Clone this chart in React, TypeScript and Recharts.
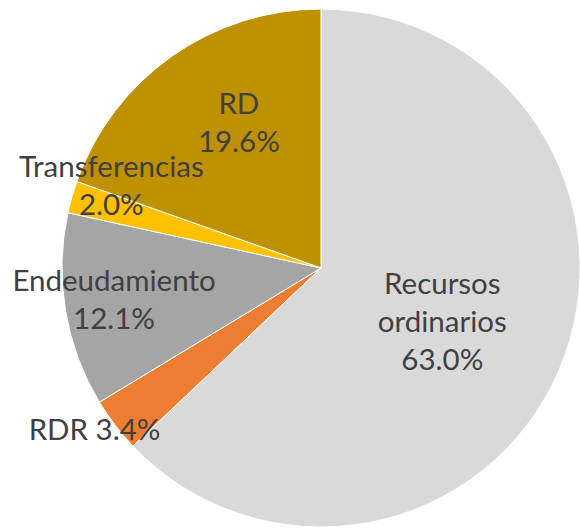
import { Cell, Pie, PieChart } from "recharts";

const categories = ["Recursos ordinarios", "RDR", "Endeudamiento", "Transferencias", "RD"];
const shares = [63.0, 3.4, 12.1, 2.0, 19.6];
const labelLines = [
  ["Recursos", "ordinarios", "63.0%"],
  ["RDR 3.4%"],
  ["Endeudamiento", "12.1%"],
  ["Transferencias", "2.0%"],
  ["RD", "19.6%"],
];

const COLORS = ["#D9D9D9", "#ED7D31", "#A5A5A5", "#FFC000", "#BF9000"];
// how far out each label sits, as a share of the radius, plus a small nudge
const LABEL_RADIUS = [0.51, 1.08, 0.81, 0.87, 0.65];
const LABEL_NUDGE = [
  [0, 0],
  [-4, -10],
  [0, -4],
  [7, -22],
  [15, -10],
];
const LINE_HEIGHT = 38;

const data = categories.map((name, i) => ({ name, value: shares[i] }));

const RAD = Math.PI / 180;

const renderLabel = (props: any) => {
  const { cx, cy, midAngle, outerRadius, index } = props;
  const r = outerRadius * LABEL_RADIUS[index];
  const x = cx + r * Math.cos(-midAngle * RAD) + LABEL_NUDGE[index][0];
  const y = cy + r * Math.sin(-midAngle * RAD) + LABEL_NUDGE[index][1];
  const lines = labelLines[index];
  const top = y - ((lines.length - 1) * LINE_HEIGHT) / 2;
  return (
    <text
      key={`label-${index}`}
      x={x}
      y={top}
      textAnchor="middle"
      dominantBaseline="central"
      fill="#404040"
      fontSize={29.5}
      fontFamily="Lato, 'Open Sans', sans-serif"
    >
      {lines.map((line, j) => (
        <tspan key={j} x={x} y={top + j * LINE_HEIGHT}>
          {line}
        </tspan>
      ))}
    </text>
  );
};

export default function App() {
  return (
    <div style={{ position: "absolute", left: 0, top: 0 }}>
      <PieChart width={580} height={529} margin={{ top: 0, right: 0, bottom: 0, left: 0 }}>
        <Pie
          data={data}
          dataKey="value"
          nameKey="name"
          cx={321}
          cy={268}
          outerRadius={259}
          startAngle={90}
          endAngle={-270}
          stroke="#FFFFFF"
          strokeWidth={1}
          label={renderLabel}
          labelLine={false}
          isAnimationActive={false}
        >
          {data.map((entry, index) => (
            <Cell key={`cell-${index}`} fill={COLORS[index % COLORS.length]} />
          ))}
        </Pie>
      </PieChart>
    </div>
  );
}
